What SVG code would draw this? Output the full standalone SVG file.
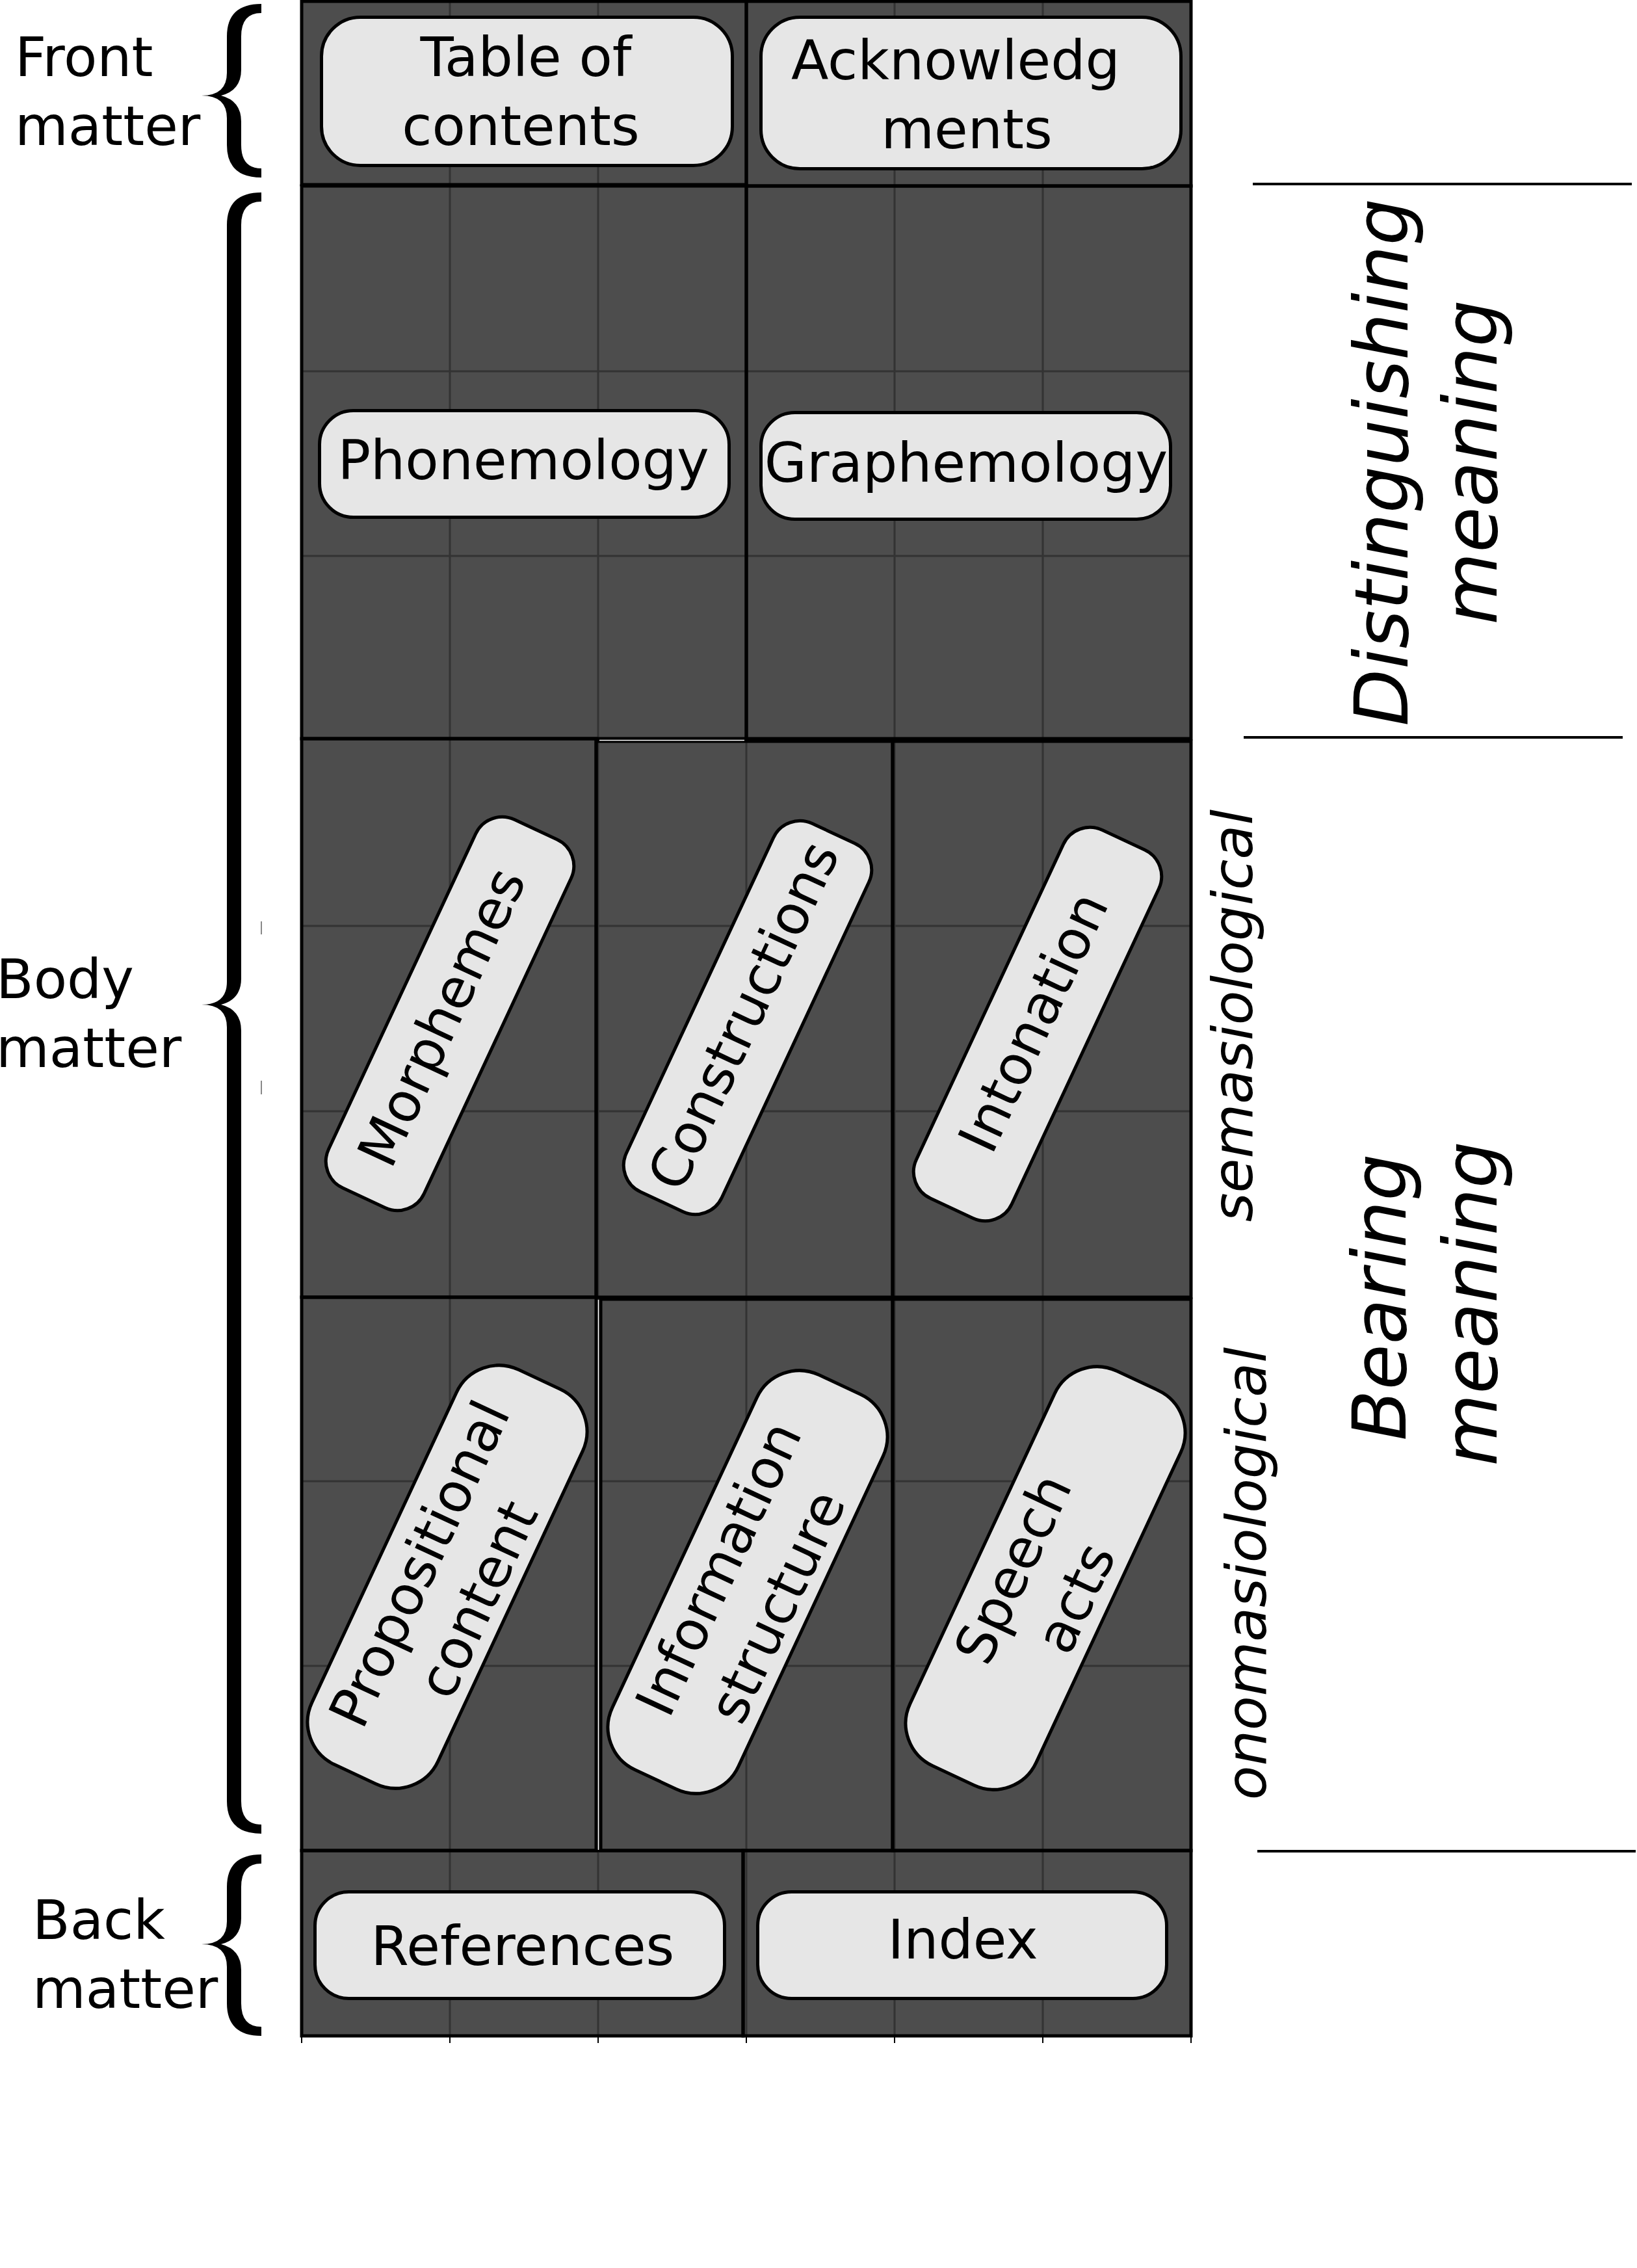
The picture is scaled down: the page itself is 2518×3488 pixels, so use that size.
<svg xmlns="http://www.w3.org/2000/svg" width="2518" height="3488" viewBox="0 0 2518 3488">
<style>
.lbl{font-family:"DejaVu Sans","Noto Sans",sans-serif;font-size:84px;fill:#000}
.nt{font-family:"DejaVu Sans","Noto Sans",sans-serif;font-size:84px;fill:#000;text-anchor:middle}
.node{fill:#e6e6e6;stroke:#000;stroke-width:5}
.sec{fill:none;stroke:#000;stroke-width:5}
.grid{stroke:#333;stroke-width:3}
.it{font-family:"DejaVu Sans","Noto Sans",sans-serif;font-style:italic;text-anchor:middle;fill:#000}
.rule{stroke:#000;stroke-width:4}
.brace{fill:#000}
.tick{stroke:#000;stroke-width:2}
.faint{stroke:#888;stroke-width:2}
.gap{stroke:#fff;stroke-width:1.5}
</style>
<rect width="2518" height="3488" fill="#fff"/>
<g id="panel">
  <rect x="464" y="2" width="1368" height="3129" fill="#4d4d4d"/>
  <g id="grid">
    <line class="grid" x1="692" y1="2" x2="692" y2="3131"/>
    <line class="grid" x1="920" y1="2" x2="920" y2="3131"/>
    <line class="grid" x1="1148" y1="2" x2="1148" y2="3131"/>
    <line class="grid" x1="1376" y1="2" x2="1376" y2="3131"/>
    <line class="grid" x1="1604" y1="2" x2="1604" y2="3131"/>
    <line class="grid" x1="464" y1="571" x2="1832" y2="571"/>
    <line class="grid" x1="464" y1="855" x2="1832" y2="855"/>
    <line class="grid" x1="464" y1="1424" x2="1832" y2="1424"/>
    <line class="grid" x1="464" y1="1709" x2="1832" y2="1709"/>
    <line class="grid" x1="464" y1="2278" x2="1832" y2="2278"/>
    <line class="grid" x1="464" y1="2562" x2="1832" y2="2562"/>
  </g>
  <g id="sections">
    <rect class="sec" x="464" y="2" width="684" height="282"/>
    <rect class="sec" x="1148" y="2" width="684" height="284"/>
    <rect class="sec" x="464" y="286" width="684" height="850"/>
    <rect class="sec" x="1148" y="286" width="684" height="850"/>
    <rect class="sec" x="464" y="1136" width="453" height="859"/>
    <rect class="sec" x="917" y="1140" width="456" height="855"/>
    <rect class="sec" x="1373" y="1140" width="459" height="855"/>
    <rect class="sec" x="464" y="1995" width="453" height="851"/>
    <rect class="sec" x="924" y="1998" width="449" height="848"/>
    <rect class="sec" x="1373" y="1998" width="459" height="848"/>
    <rect class="sec" x="464" y="2846" width="679" height="285"/>
    <rect class="sec" x="1143" y="2846" width="689" height="285"/>
    <line class="gap" x1="920.5" y1="1999" x2="920.5" y2="2845"/>
    <line class="gap" x1="922" y1="1138.5" x2="1145" y2="1138.5"/>
  </g>
  <g id="ticks">
    <line class="tick" x1="464" y1="3131" x2="464" y2="3142"/>
    <line class="tick" x1="692" y1="3131" x2="692" y2="3142"/>
    <line class="tick" x1="920" y1="3131" x2="920" y2="3142"/>
    <line class="tick" x1="1148" y1="3131" x2="1148" y2="3142"/>
    <line class="tick" x1="1376" y1="3131" x2="1376" y2="3142"/>
    <line class="tick" x1="1604" y1="3131" x2="1604" y2="3142"/>
    <line class="tick" x1="1832" y1="3131" x2="1832" y2="3142"/>
    <line class="faint" x1="402" y1="1417" x2="402" y2="1437"/>
    <line class="faint" x1="402" y1="1662" x2="402" y2="1683"/>
  </g>
</g>
<g id="connectors">
  <line class="rule" x1="1927" y1="283" x2="2510" y2="283"/>
  <line class="rule" x1="1913" y1="1134" x2="2496" y2="1134"/>
  <line class="rule" x1="1934" y1="2847" x2="2516" y2="2847"/>
  <path class="brace" d="M402,6 L402,20 Q371,20 371,56 L371,107 Q371,139 340,147 Q371,155 371,187 L371,223 Q371,259 402,259 L402,273 Q349,273 349,223 L349,182 Q349,147 310,147 Q349,147 349,112 L349,56 Q349,6 402,6 Z"/>
  <path class="brace" d="M402,296 L402,310 Q371,310 371,346 L371,1505 Q371,1537 340,1545 Q371,1553 371,1585 L371,2770 Q371,2806 402,2806 L402,2820 Q349,2820 349,2770 L349,1580 Q349,1545 310,1545 Q349,1545 349,1510 L349,346 Q349,296 402,296 Z"/>
  <path class="brace" d="M402,2852 L402,2866 Q371,2866 371,2902 L371,2950 Q371,2982 340,2990 Q371,2998 371,3030 L371,3081 Q371,3117 402,3117 L402,3131 Q349,3131 349,3081 L349,3025 Q349,2990 310,2990 Q349,2990 349,2955 L349,2902 Q349,2852 402,2852 Z"/>
</g>
<g id="labels">
  <text class="lbl" x="23" y="117">Front</text>
  <text class="lbl" x="23" y="223">matter</text>
  <text class="lbl" x="-6" y="1535">Body</text>
  <text class="lbl" x="-6" y="1641">matter</text>
  <text class="lbl" x="50" y="2982">Back</text>
  <text class="lbl" x="50" y="3088">matter</text>
  <text class="it" font-size="114" transform="translate(2165,711) rotate(-90)">Distinguishing</text>
  <text class="it" font-size="114" transform="translate(2302,711) rotate(-90)">meaning</text>
  <text class="it" font-size="114" transform="translate(2162,1995) rotate(-90)">Bearing</text>
  <text class="it" font-size="114" transform="translate(2302,2005) rotate(-90)">meaning</text>
  <text class="it" font-size="86" transform="translate(1926,1562) rotate(-90)">semasiological</text>
  <text class="it" font-size="86" transform="translate(1947,2420) rotate(-90)">onomasiological</text>
</g>
<g id="toc">
  <rect class="node" x="494.5" y="26.5" width="632" height="228" rx="60"/>
  <text class="nt" x="809" y="117">Table of</text>
  <text class="nt" x="801" y="223">contents</text>
</g>
<g id="ack">
  <rect class="node" x="1170.5" y="26.5" width="646" height="233" rx="60"/>
  <text class="nt" x="1470" y="122">Acknowledg</text>
  <text class="nt" x="1487" y="228">ments</text>
</g>
<g id="phonemology">
  <rect class="node" x="491.5" y="631.5" width="630" height="164" rx="52"/>
  <text class="nt" x="805" y="737">Phonemology</text>
</g>
<g id="graphemology">
  <rect class="node" x="1170.5" y="634.5" width="630" height="164" rx="52"/>
  <text class="nt" x="1486" y="741">Graphemology</text>
</g>
<g id="morphemes" transform="translate(692,1559) rotate(-65)">
  <rect class="node" x="-312.5" y="-81" width="625" height="162" rx="45"/>
  <text class="nt" x="-10" y="20">Morphemes</text>
</g>
<g id="constructions" transform="translate(1150,1565) rotate(-65)">
  <rect class="node" x="-312.5" y="-81" width="625" height="162" rx="45"/>
  <text class="nt" x="0" y="22">Constructions</text>
</g>
<g id="intonation" transform="translate(1596,1575) rotate(-65)">
  <rect class="node" x="-312.5" y="-81" width="625" height="162" rx="45"/>
  <text class="nt" x="0" y="22">Intonation</text>
</g>
<g id="propositional" transform="translate(688,2425) rotate(-65)">
  <rect class="node" x="-335" y="-107" width="670" height="214" rx="72"/>
  <text class="nt" x="0" y="-18">Propositional</text>
  <text class="nt" x="-12" y="86">content</text>
</g>
<g id="information" transform="translate(1150,2433) rotate(-65)">
  <rect class="node" x="-335" y="-107" width="670" height="214" rx="72"/>
  <text class="nt" x="0" y="-20">Information</text>
  <text class="nt" x="-15" y="86">structure</text>
</g>
<g id="speech" transform="translate(1608,2427) rotate(-65)">
  <rect class="node" x="-335" y="-107" width="670" height="214" rx="72"/>
  <text class="nt" x="-8" y="-22">Speech</text>
  <text class="nt" x="-8" y="84">acts</text>
</g>
<g id="references">
  <rect class="node" x="484.5" y="2909.5" width="630" height="164" rx="52"/>
  <text class="nt" x="804" y="3022">References</text>
</g>
<g id="index">
  <rect class="node" x="1165.5" y="2909.5" width="629" height="164" rx="52"/>
  <text class="nt" x="1481" y="3012">Index</text>
</g>
</svg>
